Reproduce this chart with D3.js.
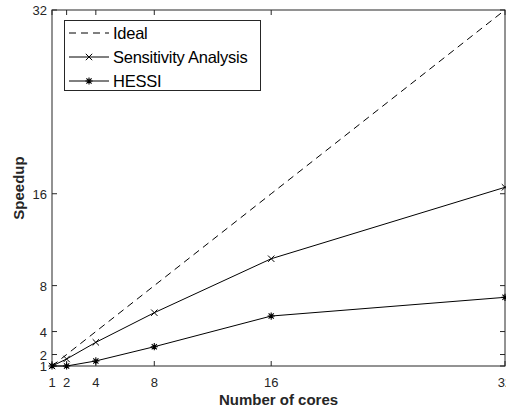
<!DOCTYPE html>
<html>
<head>
<meta charset="utf-8">
<script src="https://cdn.jsdelivr.net/npm/d3@7"></script>
<style>
  html, body { margin: 0; padding: 0; background: #fff; }
  svg { display: block; }
</style>
</head>
<body>
<div id="chart"></div>
<script>
// speedup vs cores, matlab-style plot
const cores = [1, 2, 4, 8, 16, 32];
const ideal = [1, 2, 4, 8, 16, 32];
const sensitivity = [1, 1.61, 3.06, 5.64, 10.34, 16.56];
const hessi = [1, 1.0, 1.44, 2.68, 5.35, 6.98];
const xTicks = [1, 2, 4, 8, 16, 32];
const yTicks = [1, 2, 4, 8, 16, 32];
const legendNames = ["Ideal", "Sensitivity Analysis", "HESSI"];

const W = 506, H = 412;
const L = 52, R = 505, T = 10, B = 366;
const FONT = "'Liberation Sans', Arial, Helvetica, sans-serif";
const AX = "#262626";

const svg = d3.select("#chart").append("svg")
  .attr("width", W).attr("height", H)
  .attr("viewBox", `0 0 ${W} ${H}`);

const x = d3.scaleLinear().domain([1, 32]).range([L, R]);
const y = d3.scaleLinear().domain([1, 32]).range([B, T]);

// axes box + ticks (inside, mirrored)
const tl = 5;
const axes = svg.append("g").attr("stroke", AX).attr("stroke-width", 1).attr("fill", "none");
axes.append("rect").attr("x", L).attr("y", T).attr("width", R - L).attr("height", B - T);
xTicks.forEach(v => {
  axes.append("line").attr("x1", x(v)).attr("x2", x(v)).attr("y1", B).attr("y2", B - tl);
  axes.append("line").attr("x1", x(v)).attr("x2", x(v)).attr("y1", T).attr("y2", T + tl);
});
yTicks.forEach(v => {
  axes.append("line").attr("x1", L).attr("x2", L + tl).attr("y1", y(v)).attr("y2", y(v));
  axes.append("line").attr("x1", R).attr("x2", R - tl).attr("y1", y(v)).attr("y2", y(v));
});

svg.append("g").selectAll("text").data(xTicks).join("text")
  .attr("x", d => x(d)).attr("y", B + 21).attr("text-anchor", "middle")
  .attr("style", `font:13px ${FONT};fill:${AX}`)
  .text(d => d);
svg.append("g").selectAll("text").data(yTicks).join("text")
  .attr("x", L - 5).attr("y", d => y(d) + 5).attr("text-anchor", "end")
  .attr("style", `font:13px ${FONT};fill:${AX}`)
  .text(d => d);

// axis titles
svg.append("text")
  .attr("x", (L + R) / 2).attr("y", 405).attr("text-anchor", "middle")
  .attr("style", `font:bold 15px ${FONT};fill:${AX}`)
  .text("Number of cores");
svg.append("text")
  .attr("transform", `translate(24,${(T + B) / 2}) rotate(-90)`)
  .attr("text-anchor", "middle")
  .attr("style", `font:bold 15px ${FONT};fill:${AX}`)
  .text("Speedup");

// series
const line = d3.line().x(d => x(d[0])).y(d => y(d[1]));
const zip = vals => cores.map((c, i) => [c, vals[i]]);

svg.append("path").attr("d", line(zip(ideal)))
  .attr("fill", "none").attr("stroke", "#000").attr("stroke-width", 1)
  .attr("stroke-dasharray", "7 5");
svg.append("path").attr("d", line(zip(sensitivity)))
  .attr("fill", "none").attr("stroke", "#000").attr("stroke-width", 1);
svg.append("path").attr("d", line(zip(hessi)))
  .attr("fill", "none").attr("stroke", "#000").attr("stroke-width", 1);

const m = 3.2;
function crossMark(g, cx, cy) {
  g.append("path").attr("d", `M${cx - m},${cy - m}L${cx + m},${cy + m}M${cx - m},${cy + m}L${cx + m},${cy - m}`)
    .attr("stroke", "#000").attr("stroke-width", 1).attr("fill", "none");
}
function starMark(g, cx, cy) {
  const s = 3.6, d = s * 0.72;
  g.append("path").attr("d",
    `M${cx - s},${cy}L${cx + s},${cy}M${cx},${cy - s}L${cx},${cy + s}` +
    `M${cx - d},${cy - d}L${cx + d},${cy + d}M${cx - d},${cy + d}L${cx + d},${cy - d}`)
    .attr("stroke", "#000").attr("stroke-width", 1.1).attr("fill", "none");
}
const mk = svg.append("g");
zip(sensitivity).forEach(p => crossMark(mk, x(p[0]), y(p[1])));
zip(hessi).forEach(p => starMark(mk, x(p[0]), y(p[1])));

// legend
const lg = svg.append("g");
lg.append("rect").attr("x", 64.5).attr("y", 20.5).attr("width", 196).attr("height", 70)
  .attr("fill", "#fff").attr("stroke", AX).attr("stroke-width", 1);
const rowY = [33, 57, 81];
legendNames.forEach((name, i) => {
  const ly = rowY[i];
  lg.append("line").attr("x1", 69).attr("x2", 109).attr("y1", ly).attr("y2", ly)
    .attr("stroke", "#000").attr("stroke-width", 1)
    .attr("stroke-dasharray", i === 0 ? "7 5" : null);
  if (i === 1) crossMark(lg, 89, ly);
  if (i === 2) starMark(lg, 89, ly);
  lg.append("text").attr("x", 113).attr("y", ly + 6)
    .attr("style", `font:16.5px ${FONT};fill:#000;letter-spacing:-0.25px`)
    .text(name);
});
</script>
</body>
</html>
